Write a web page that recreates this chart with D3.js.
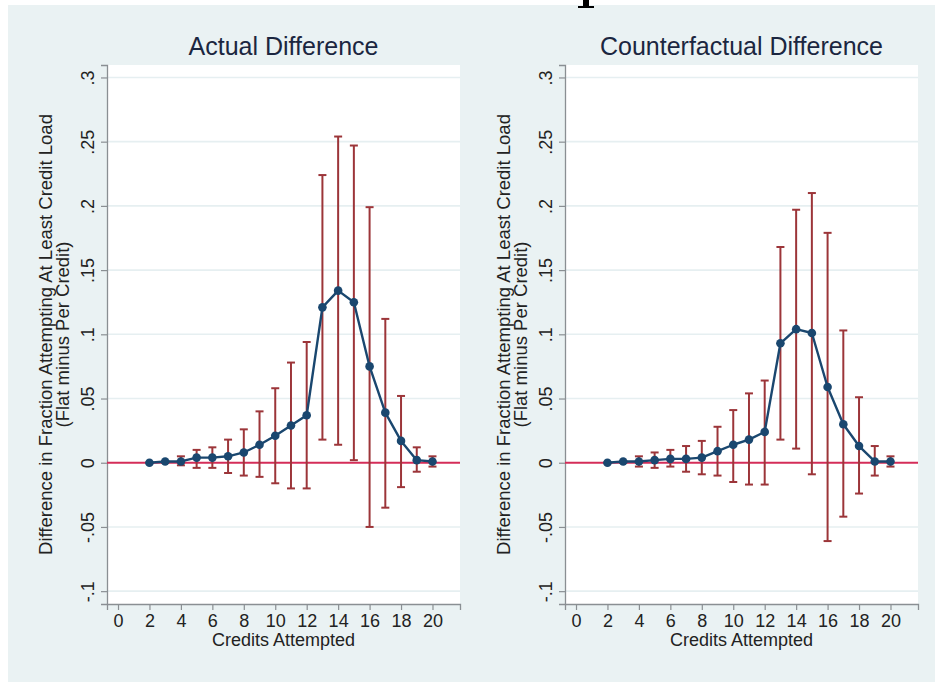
<!DOCTYPE html>
<html>
<head>
<meta charset="utf-8">
<script src="https://cdn.jsdelivr.net/npm/d3@7"></script>
<style>
  html, body { margin: 0; padding: 0; background: #ffffff; }
  svg { display: block; }
  text { font-family: "Liberation Sans", Arial, sans-serif; }
</style>
</head>
<body>
<svg id="chart" width="935" height="682"></svg>
<script>
// Credits attempted (x values)
const credits = [2, 3, 4, 5, 6, 7, 8, 9, 10, 11, 12, 13, 14, 15, 16, 17, 18, 19, 20];

// Actual difference: point estimate and confidence interval bounds
const actualEst = [0.000, 0.001, 0.001, 0.004, 0.004, 0.005, 0.008, 0.014, 0.021, 0.029, 0.037, 0.121, 0.134, 0.125, 0.075, 0.039, 0.017, 0.002, 0.001];
const actualLo  = [0.000, 0.000, -0.002, -0.004, -0.004, -0.008, -0.010, -0.011, -0.016, -0.020, -0.020, 0.018, 0.014, 0.002, -0.050, -0.035, -0.019, -0.007, -0.003];
const actualHi  = [0.000, 0.001, 0.005, 0.010, 0.012, 0.018, 0.026, 0.040, 0.058, 0.078, 0.094, 0.224, 0.254, 0.247, 0.199, 0.112, 0.052, 0.012, 0.005];

// Counterfactual difference: point estimate and confidence interval bounds
const cfEst = [0.000, 0.001, 0.001, 0.002, 0.003, 0.003, 0.004, 0.009, 0.014, 0.018, 0.024, 0.093, 0.104, 0.101, 0.059, 0.030, 0.013, 0.001, 0.001];
const cfLo  = [0.000, 0.000, -0.003, -0.004, -0.003, -0.007, -0.009, -0.010, -0.015, -0.017, -0.017, 0.018, 0.011, -0.009, -0.061, -0.042, -0.024, -0.010, -0.003];
const cfHi  = [0.000, 0.001, 0.005, 0.008, 0.010, 0.013, 0.017, 0.028, 0.041, 0.054, 0.064, 0.168, 0.197, 0.210, 0.179, 0.103, 0.051, 0.013, 0.005];

// Axis ticks and labels
const xTicks = [0, 2, 4, 6, 8, 10, 12, 14, 16, 18, 20];
const yTicks = [-0.1, -0.05, 0, 0.05, 0.1, 0.15, 0.2, 0.25, 0.3];
const yTickLabels = ["-.1", "-.05", "0", ".05", ".1", ".15", ".2", ".25", ".3"];

const panelTitles = ["Actual Difference", "Counterfactual Difference"];
const xTitle = "Credits Attempted";
const yTitleLines = ["Difference in Fraction Attempting At Least Credit Load", "(Flat minus Per Credit)"];

const panels = [
  { title: panelTitles[0], est: actualEst, lo: actualLo, hi: actualHi, left: 107 },
  { title: panelTitles[1], est: cfEst, lo: cfLo, hi: cfHi, left: 565 }
];

const COLORS = {
  page: "#eaf2f3",
  plot: "#ffffff",
  grid: "#e6eff1",
  axis: "#8a8f93",
  text: "#222222",
  title: "#1b2640",
  zero: "#d42d58",
  ci: "#9c3539",
  line: "#1a476f"
};

const svg = d3.select("#chart");

// page background
svg.append("rect").attr("x", 8).attr("y", 5).attr("width", 927).attr("height", 677).attr("fill", COLORS.page);

// foot of a serif stroke running in from the top edge
svg.append("rect").attr("x", 583).attr("y", 0).attr("width", 6).attr("height", 8).attr("fill", "#000");
svg.append("rect").attr("x", 578).attr("y", 6).attr("width", 16).attr("height", 2).attr("fill", "#000");

const plotTop = 65, plotBottom = 604, plotWidth = 353;

panels.forEach(p => {
  const x = d3.scaleLinear().domain([-0.7, 21.75]).range([p.left, p.left + plotWidth]);
  const y = d3.scaleLinear().domain([-0.110, 0.3097]).range([plotBottom, plotTop]);
  const g = svg.append("g");

  // plot region
  g.append("rect").attr("x", p.left).attr("y", plotTop).attr("width", plotWidth)
    .attr("height", plotBottom - plotTop).attr("fill", COLORS.plot);

  // horizontal gridlines
  g.append("g").selectAll("line").data(yTicks.filter(t => t !== 0)).join("line")
    .attr("x1", p.left).attr("x2", p.left + plotWidth)
    .attr("y1", d => y(d)).attr("y2", d => y(d))
    .attr("stroke", COLORS.grid).attr("stroke-width", 1.6);

  // y axis
  const yAxis = d3.axisLeft(y).tickValues(yTicks).tickSize(6)
    .tickFormat((d, i) => yTickLabels[i]);
  const ya = g.append("g").attr("transform", `translate(${p.left},0)`).call(yAxis);
  ya.select(".domain").attr("stroke", COLORS.axis).attr("stroke-width", 1.3);
  ya.selectAll(".tick line").attr("stroke", COLORS.axis).attr("stroke-width", 1.2);
  ya.selectAll(".tick text")
    .attr("x", null).attr("dy", null)
    .attr("transform", "translate(-13,0) rotate(-90)")
    .attr("text-anchor", "middle")
    .style("font-size", "18px")
    .attr("fill", COLORS.text);

  // x axis
  const xAxis = d3.axisBottom(x).tickValues(xTicks).tickSize(6).tickFormat(d3.format("d"));
  const xa = g.append("g").attr("transform", `translate(0,${plotBottom})`).call(xAxis);
  xa.select(".domain").attr("stroke", COLORS.axis).attr("stroke-width", 1.3);
  xa.selectAll(".tick line").attr("stroke", COLORS.axis).attr("stroke-width", 1.2);
  xa.selectAll(".tick text").attr("y", 10).style("font-size", "18px").attr("fill", COLORS.text);

  // zero reference line
  g.append("line")
    .attr("x1", p.left).attr("x2", p.left + plotWidth)
    .attr("y1", y(0)).attr("y2", y(0))
    .attr("stroke", COLORS.zero).attr("stroke-width", 2);

  // confidence interval caps
  const ci = g.append("g").attr("stroke", COLORS.ci).attr("stroke-width", 2).attr("fill", "none");
  credits.forEach((c, i) => {
    const cx = x(c), y1 = y(p.lo[i]), y2 = y(p.hi[i]);
    ci.append("line").attr("x1", cx).attr("x2", cx).attr("y1", y1).attr("y2", y2);
    ci.append("line").attr("x1", cx - 4).attr("x2", cx + 4).attr("y1", y1).attr("y2", y1);
    ci.append("line").attr("x1", cx - 4).attr("x2", cx + 4).attr("y1", y2).attr("y2", y2);
  });

  // connected estimates
  const line = d3.line().x((d, i) => x(credits[i])).y(d => y(d));
  g.append("path").datum(p.est).attr("d", line)
    .attr("fill", "none").attr("stroke", COLORS.line).attr("stroke-width", 2.4)
    .attr("stroke-linejoin", "round");
  g.append("g").selectAll("circle").data(p.est).join("circle")
    .attr("cx", (d, i) => x(credits[i])).attr("cy", d => y(d)).attr("r", 4.3)
    .attr("fill", COLORS.line);

  // panel title
  g.append("text")
    .attr("x", p.left + plotWidth / 2).attr("y", 55)
    .attr("text-anchor", "middle")
    .style("font-size", "25px")
    .attr("fill", COLORS.title)
    .text(p.title);

  // x axis title
  g.append("text")
    .attr("x", p.left + plotWidth / 2).attr("y", 646)
    .attr("text-anchor", "middle")
    .style("font-size", "18px")
    .attr("fill", COLORS.text)
    .text(xTitle);

  // y axis title (two lines)
  const cy = (plotTop + plotBottom) / 2;
  yTitleLines.forEach((t, k) => {
    g.append("text")
      .attr("transform", `translate(${p.left - 55 + k * 17},${cy}) rotate(-90)`)
      .attr("text-anchor", "middle")
      .style("font-size", "18.5px")
      .attr("fill", COLORS.text)
      .text(t);
  });
});
</script>
</body>
</html>
